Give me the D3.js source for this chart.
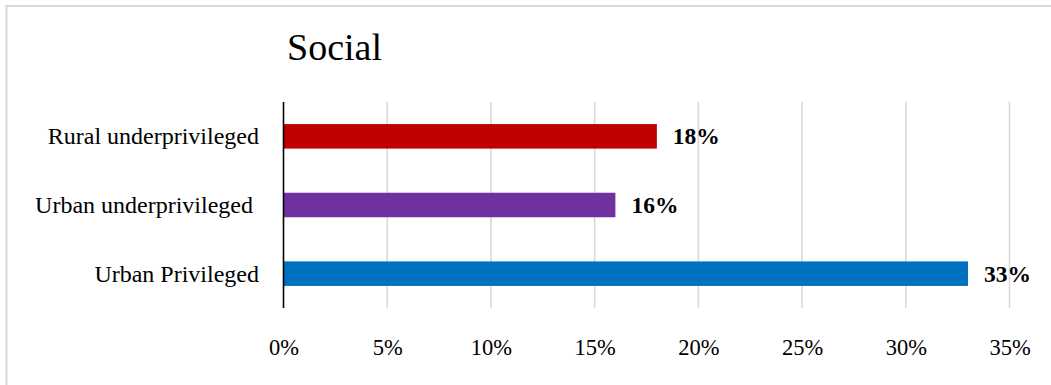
<!DOCTYPE html>
<html>
<head>
<meta charset="utf-8">
<script src="https://cdn.jsdelivr.net/npm/d3@7"></script>
<style>
  html, body { margin: 0; padding: 0; background: #fff; }
  svg { display: block; }
  text { font-family: "Liberation Serif", "Times New Roman", serif; fill: #000; }
</style>
</head>
<body>
<svg id="chart" width="1051" height="385"></svg>
<script>
// Share of respondents per group, "Social" dimension
const categories = ["Rural underprivileged", "Urban underprivileged ", "Urban Privileged"];
const values = [18, 16, 33];
const barColors = ["#c00000", "#7030a0", "#0070c0"];
const tickValues = [0, 5, 10, 15, 20, 25, 30, 35];
const chartTitle = "Social";

const svg = d3.select("#chart");
const W = 1051, H = 385;
const plot = { left: 283.5, right: 1009.5, top: 102, bottom: 308 };

// chart frame (extends past the visible window on the right and bottom)
svg.append("rect")
  .attr("x", 6.5).attr("y", 6)
  .attr("width", W + 10).attr("height", H + 10)
  .attr("fill", "#fff")
  .attr("stroke", "#d9d9d9")
  .attr("stroke-width", 2);

svg.append("text")
  .attr("x", 287).attr("y", 60)
  .attr("font-size", 38)
  .text(chartTitle);

const x = d3.scaleLinear().domain([0, 35]).range([plot.left, plot.right]);
const y = d3.scaleBand()
  .domain(categories)
  .range([plot.top, plot.bottom])
  .paddingInner(0.643)
  .paddingOuter(0.3215);

// vertical gridlines
svg.append("g")
  .selectAll("line")
  .data(tickValues.filter(d => d > 0))
  .join("line")
  .attr("x1", d => x(d)).attr("x2", d => x(d))
  .attr("y1", plot.top).attr("y2", plot.bottom)
  .attr("stroke", "#d9d9d9")
  .attr("stroke-width", 1.6);

// x axis tick labels
const xAxis = d3.axisBottom(x)
  .tickValues(tickValues)
  .tickFormat(d => d + "%")
  .tickSize(0)
  .tickPadding(0);
const gx = svg.append("g")
  .attr("transform", `translate(0,${plot.bottom})`)
  .call(xAxis);
gx.select(".domain").remove();
gx.selectAll("text")
  .attr("y", 47)
  .attr("dy", null)
  .attr("font-size", 22.5)
  .attr("font-family", "Liberation Serif, Times New Roman, serif")
  .attr("fill", "#000");

// bars
svg.append("g")
  .selectAll("rect")
  .data(categories)
  .join("rect")
  .attr("x", x(0))
  .attr("y", d => y(d))
  .attr("width", (d, i) => x(values[i]) - x(0))
  .attr("height", y.bandwidth())
  .attr("fill", (d, i) => barColors[i]);

// category axis
const yAxis = d3.axisLeft(y).tickSize(0).tickPadding(24.5);
const gy = svg.append("g")
  .attr("transform", `translate(${plot.left},0)`)
  .call(yAxis);
gy.select(".domain").remove();
gy.selectAll("text")
  .attr("font-size", 24)
  .attr("font-family", "Liberation Serif, Times New Roman, serif")
  .attr("fill", "#000")
  .attr("dy", "0.33em")
  .style("white-space", "pre");

svg.append("line")
  .attr("x1", plot.left).attr("x2", plot.left)
  .attr("y1", plot.top).attr("y2", plot.bottom)
  .attr("stroke", "#000")
  .attr("stroke-width", 1.6);

// value labels
svg.append("g")
  .selectAll("text")
  .data(categories)
  .join("text")
  .attr("x", (d, i) => x(values[i]) + 16)
  .attr("y", d => y(d) + y.bandwidth() / 2)
  .attr("dy", "0.34em")
  .attr("font-size", 23.5)
  .attr("font-weight", "bold")
  .text((d, i) => values[i] + "%");
</script>
</body>
</html>
